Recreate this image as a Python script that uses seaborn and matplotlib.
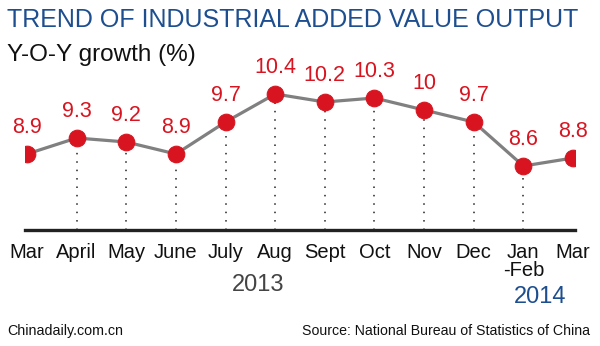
import matplotlib
matplotlib.use("Agg")
import matplotlib.pyplot as plt
import seaborn as sns
import pandas as pd

months = ["Mar", "April", "May", "June", "July", "Aug", "Sept", "Oct", "Nov", "Dec", "Jan\n-Feb", "Mar"]
growth = [8.9, 9.3, 9.2, 8.9, 9.7, 10.4, 10.2, 10.3, 10.0, 9.7, 8.6, 8.8]
value_labels = ["8.9", "9.3", "9.2", "8.9", "9.7", "10.4", "10.2", "10.3", "10", "9.7", "8.6", "8.8"]

sns.set_theme(style="white")
plt.rcParams['font.family'] = ['Liberation Sans', 'DejaVu Sans']

df = pd.DataFrame({"pos": list(range(len(months))), "growth": growth})

W, H = 600, 346
fig = plt.figure(figsize=(6.0, 3.46), dpi=100)
fig.patch.set_facecolor("white")
ax = fig.add_axes([25 / W, (H - 230) / H, 550 / W, 160 / H])
ax.set_facecolor("white")

ymin = 7.0
# dotted drop lines
for i, v in enumerate(growth):
    if 0 < i < len(growth) - 1:
        ax.vlines(i, ymin, v, colors="#222222", linestyles=(0, (1, 4.5)), linewidth=1.1, zorder=1)

sns.lineplot(data=df, x="pos", y="growth", ax=ax, color="#808080", linewidth=2.3,
             marker="o", markersize=12, markerfacecolor="#d7141f", markeredgecolor="#d7141f",
             zorder=3)

for i, (v, lab) in enumerate(zip(growth, value_labels)):
    ax.annotate(lab, (i, v), xytext=(0, 11.5), textcoords="offset points",
                ha="center", va="bottom", color="#d7141f", fontsize=15.5,
                annotation_clip=False)

ax.set_xlim(-0.04, len(months) - 1 + 0.04)
ax.set_ylim(ymin, 11.0)
ax.set_xticks(range(len(months)))
ax.set_xticklabels(months, fontsize=14.5, color="#111111", linespacing=1.0)
ax.tick_params(axis="x", length=0, pad=9)
ax.set_yticks([])
ax.set_xlabel("")
ax.set_ylabel("")
for s in ["top", "left", "right"]:
    ax.spines[s].set_visible(False)
ax.spines["bottom"].set_color("#222222")
ax.spines["bottom"].set_linewidth(2.4)

fig.text(7 / W, 1 - 20 / H, "TREND OF INDUSTRIAL ADDED VALUE OUTPUT", fontsize=18,
         color="#1d4e8f", ha="left", va="center")
fig.text(7 / W, 1 - 55 / H, "Y-O-Y growth (%)", fontsize=17.5, color="#111111",
         ha="left", va="center")
fig.text(258 / W, 1 - 285 / H, "2013", fontsize=17, color="#444444", ha="center", va="center")
fig.text(540 / W, 1 - 297 / H, "2014", fontsize=17, color="#1d4e8f", ha="center", va="center")
fig.text(7 / W, 1 - 331 / H, "Chinadaily.com.cn", fontsize=10.3, color="#111111",
         ha="left", va="center")
fig.text(590 / W, 1 - 331 / H, "Source: National Bureau of Statistics of China", fontsize=10.2,
         color="#111111", ha="right", va="center")

fig.savefig("out.png", dpi=100, facecolor="white")
